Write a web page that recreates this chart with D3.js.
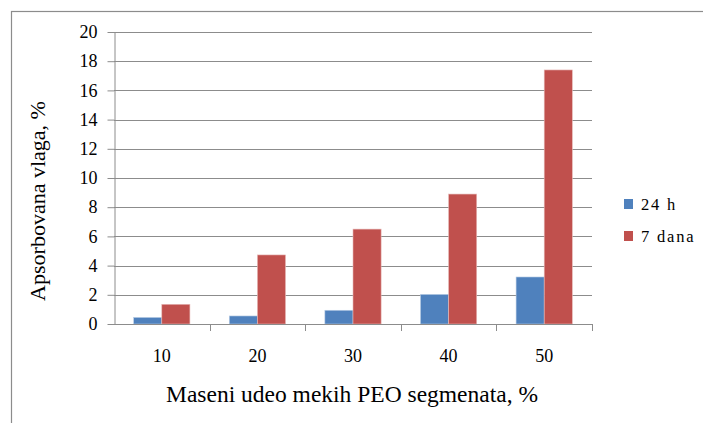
<!DOCTYPE html>
<html>
<head>
<meta charset="utf-8">
<script src="https://cdn.jsdelivr.net/npm/d3@7"></script>
<style>
  html, body { margin: 0; padding: 0; background: #fff; }
  svg { display: block; }
</style>
</head>
<body>
<svg id="chart" width="703" height="423"></svg>
<script>
// PEO soft-segment mass fraction (%) and absorbed moisture (%)
const categories = ["10", "20", "30", "40", "50"];
const seriesNames = ["24 h", "7 dana"];
const values24h = [0.45, 0.55, 0.94, 2.03, 3.22];
const values7dana = [1.35, 4.73, 6.5, 8.9, 17.4];
const yTicks = [0, 2, 4, 6, 8, 10, 12, 14, 16, 18, 20];
const colors = ["#4F81BD", "#C0504D"];

const FONT = "'Liberation Serif', 'Times New Roman', serif";
const svg = d3.select("#chart");

// outer chart frame
svg.append("rect")
  .attr("x", 11.5).attr("y", 11.5)
  .attr("width", 720).attr("height", 440)
  .attr("fill", "none").attr("stroke", "#8c8c8c").attr("stroke-width", 1.2);

const plot = { left: 114, right: 592, top: 32, bottom: 324 };

const x = d3.scaleBand().domain(categories).range([plot.left, plot.right]);
const xInner = d3.scaleBand().domain(seriesNames).range([0, x.bandwidth()])
  .paddingOuter(0.7).paddingInner(0);
const y = d3.scaleLinear().domain([0, 20]).range([plot.bottom, plot.top]);

// horizontal gridlines
svg.append("g").selectAll("line").data(yTicks.filter(d => d > 0)).join("line")
  .attr("x1", plot.left).attr("x2", plot.right)
  .attr("y1", d => Math.round(y(d)) + 0.5).attr("y2", d => Math.round(y(d)) + 0.5)
  .attr("stroke", "#8c8c8c").attr("stroke-width", 1);

// bars
const rows = categories.map((c, i) => ({ cat: c, vals: [values24h[i], values7dana[i]] }));
const groups = svg.append("g").selectAll("g").data(rows).join("g")
  .attr("transform", d => `translate(${x(d.cat)},0)`);
groups.selectAll("rect").data(d => d.vals.map((v, j) => ({ name: seriesNames[j], v, j })))
  .join("rect")
  .attr("x", d => xInner(d.name))
  .attr("width", xInner.bandwidth())
  .attr("y", d => y(d.v))
  .attr("height", d => y(0) - y(d.v))
  .attr("fill", d => colors[d.j])
  .attr("stroke", d => d.j === 0 ? "#b9cde5" : "#e6b9b8")
  .attr("stroke-width", 0.6);

// y axis
const yAxis = svg.append("g")
  .attr("transform", `translate(${plot.left + 0.5},0)`)
  .call(d3.axisLeft(y).tickValues(yTicks).tickSize(7).tickPadding(10).tickSizeOuter(0));
yAxis.select(".domain").attr("stroke", "#8c8c8c");
yAxis.selectAll(".tick line").attr("stroke", "#8c8c8c");
yAxis.selectAll(".tick text")
  .style("font-family", FONT).style("font-size", "18px").attr("fill", "#000");

// x axis
const xAxis = svg.append("g")
  .attr("transform", `translate(0,${plot.bottom + 0.5})`)
  .call(d3.axisBottom(x).tickSize(0).tickPadding(25));
xAxis.select(".domain").attr("stroke", "#8c8c8c").attr("d", `M${plot.left},0H${plot.right}`);
xAxis.selectAll(".tick text")
  .style("font-family", FONT).style("font-size", "18px").attr("fill", "#000");
// boundary ticks between categories
svg.append("g").selectAll("line")
  .data(categories.map(c => x(c) + x.bandwidth()))
  .join("line")
  .attr("x1", d => Math.round(d) + 0.5).attr("x2", d => Math.round(d) + 0.5)
  .attr("y1", plot.bottom).attr("y2", plot.bottom + 7)
  .attr("stroke", "#8c8c8c");

// axis titles
svg.append("text")
  .attr("x", 352).attr("y", 402)
  .attr("text-anchor", "middle")
  .style("font-family", FONT).style("font-size", "23.5px")
  .text("Maseni udeo mekih PEO segmenata, %");
svg.append("text")
  .attr("transform", "translate(45,201) rotate(-90)")
  .attr("text-anchor", "middle")
  .style("font-family", FONT).style("font-size", "22px")
  .text("Apsorbovana vlaga, %");

// legend
const legend = svg.append("g").attr("transform", "translate(624,199)");
const items = legend.selectAll("g").data(seriesNames).join("g")
  .attr("transform", (d, i) => `translate(0,${i * 32})`);
items.append("rect").attr("width", 9).attr("height", 10)
  .attr("fill", (d, i) => colors[i]);
items.append("text").attr("x", 17).attr("y", 11)
  .style("font-family", FONT).style("font-size", "16.5px")
  .style("letter-spacing", "1.8px")
  .text(d => d);
</script>
</body>
</html>
